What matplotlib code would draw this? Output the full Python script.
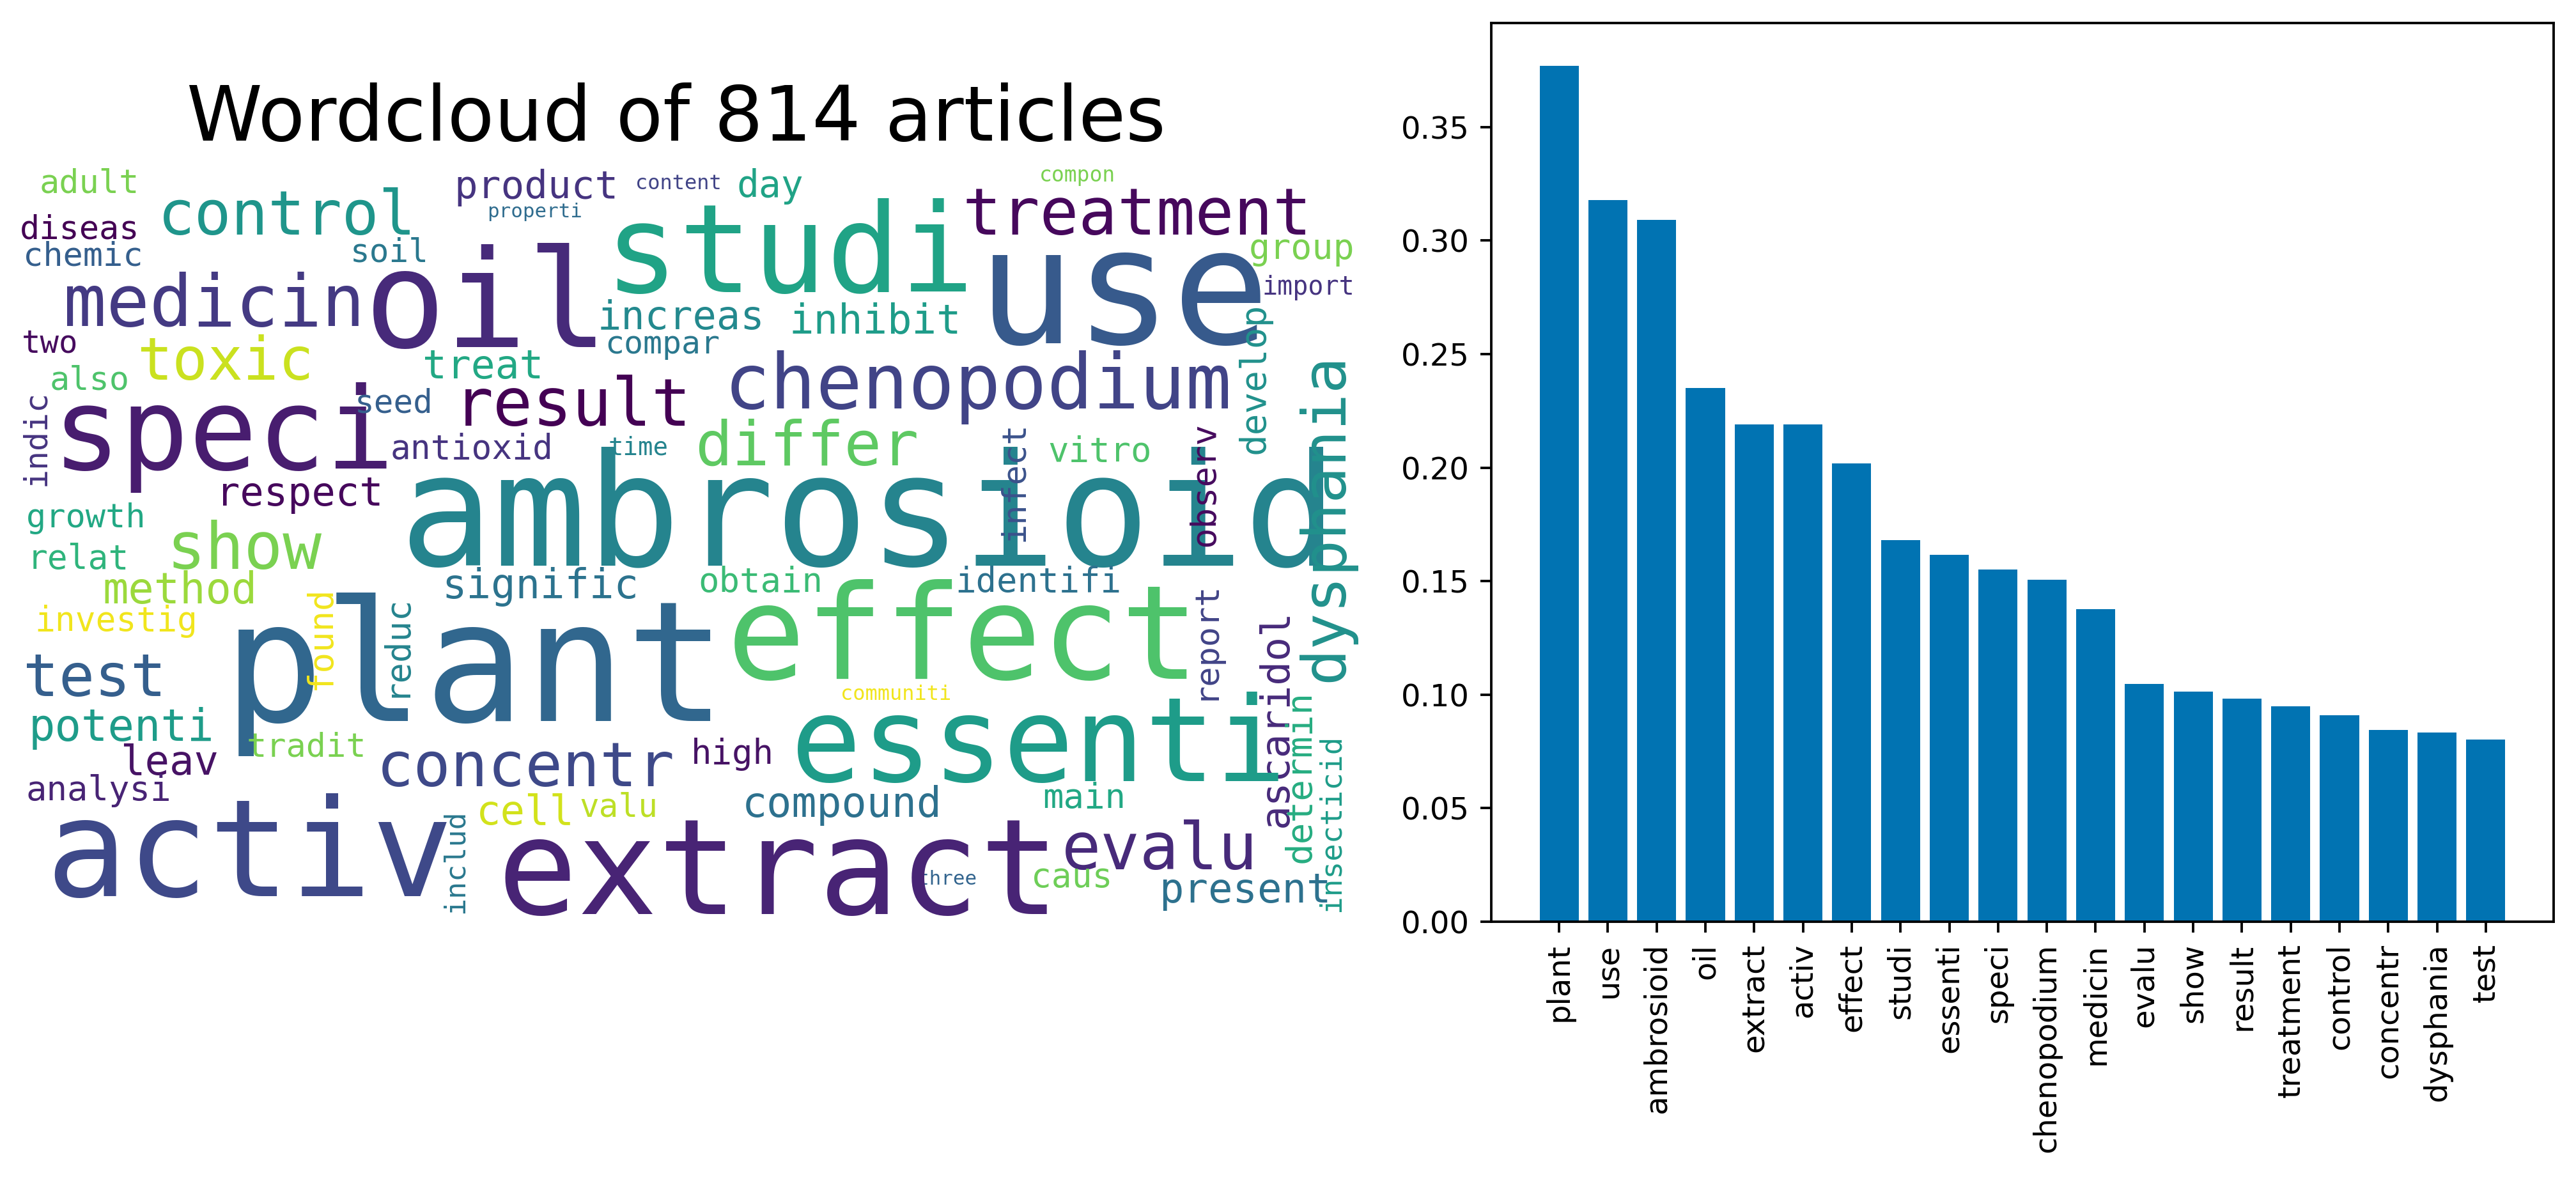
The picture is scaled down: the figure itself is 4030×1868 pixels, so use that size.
import matplotlib
matplotlib.use("Agg")
import matplotlib.pyplot as plt

DPI = 346
W, H = 4030, 1868

# === bar chart data: top 20 word weights ===
top_words = ["plant", "use", "ambrosioid", "oil", "extract", "activ", "effect",
             "studi", "essenti", "speci", "chenopodium", "medicin", "evalu",
             "show", "result", "treatment", "control", "concentr", "dysphania", "test"]
top_scores = [0.377, 0.318, 0.309, 0.235, 0.219, 0.219, 0.202,
              0.168, 0.1615, 0.155, 0.1507, 0.1378, 0.1048,
              0.1014, 0.0983, 0.0950, 0.0908, 0.0845, 0.0834, 0.0801]

# === wordcloud words and their colour (position on viridis) ===
wc_words = ["adult", "diseas", "chemic", "control", "soil", "medicin", "oil", "two",
            "toxic", "also", "indic", "speci", "seed", "respect", "growth", "product",
            "content", "day", "properti", "studi", "increas", "inhibit", "compar", "treat",
            "result", "antioxid", "time", "chenopodium", "differ", "ambrosioid", "use",
            "treatment", "compon", "group", "import", "develop", "dysphania", "vitro",
            "infect", "observ", "report", "identifi", "effect", "ascaridol", "determin",
            "insecticid", "main", "evalu", "caus", "three", "present", "extract",
            "communiti", "signific", "obtain", "plant", "concentr", "high", "essenti",
            "compound", "cell", "valu", "includ", "relat", "show", "method", "investig",
            "found", "reduc", "test", "potenti", "tradit", "leav", "analysi", "activ"]
wc_shade = [0.80, 0.0, 0.30, 0.52, 0.40, 0.17, 0.12, 0.03,
            0.92, 0.72, 0.15, 0.08, 0.30, 0.02, 0.60, 0.15,
            0.20, 0.58, 0.35, 0.58, 0.47, 0.55, 0.40, 0.60,
            0.0, 0.15, 0.45, 0.20, 0.75, 0.45, 0.28,
            0.02, 0.80, 0.80, 0.15, 0.50, 0.50, 0.72,
            0.25, 0.03, 0.20, 0.37, 0.72, 0.12, 0.62,
            0.55, 0.60, 0.12, 0.78, 0.32, 0.37, 0.10,
            0.98, 0.38, 0.68, 0.33, 0.22, 0.05, 0.55,
            0.37, 0.93, 0.90, 0.40, 0.65, 0.80, 0.85, 0.98,
            0.98, 0.45, 0.30, 0.55, 0.80, 0.05, 0.10, 0.22]

# layout of the cloud in figure pixels (x = left / baseline, y = baseline / start)
wc_x = [62, 31, 36, 247, 548, 99, 570, 34,
        214, 78, 70, 82, 555, 338, 41, 710,
        994, 1152, 762, 946, 935, 1235, 946, 661,
        710, 611, 951, 1133, 1087, 624, 1529,
        1505, 1626, 1954, 1975, 1978, 2100, 1639,
        1601, 1899, 1899, 1494, 1137, 2014, 2049,
        2095, 1631, 1661, 1613, 1435, 1813, 777,
        1315, 691, 1092, 349, 589, 1081, 1237,
        1161, 745, 907, 725, 43, 260, 160, 54,
        517, 633, 36, 45, 386, 188, 41, 71]
wc_y = [302, 373, 416, 367, 409, 510, 543, 551,
        594, 610, 760, 734, 646, 791, 825, 310,
        296, 308, 340, 457, 515, 521, 553, 592,
        666, 718, 712, 639, 728, 884, 537,
        367, 284, 405, 461, 710, 1067, 722,
        847, 855, 1095, 926, 1062, 1294, 1350,
        1426, 1264, 1360, 1388, 1384, 1412, 1430,
        1095, 936, 926, 1128, 1230, 1195, 1222,
        1278, 1290, 1278, 1429, 890, 890, 944, 987,
        1079, 1091, 1089, 1159, 1183, 1212, 1252, 1402]
wc_px = [52, 52, 52, 96, 51, 112, 212, 49,
         92, 52, 50, 178, 51, 62, 52, 61,
         32, 58, 31, 192, 62, 64, 50, 63,
         103, 53, 39, 120, 97, 244, 254,
         101, 33, 55, 40, 56, 95, 54,
         52, 54, 52, 54, 205, 63, 56,
         46, 54, 102, 53, 31, 64, 209,
         32, 64, 54, 262, 97, 54, 184,
         65, 64, 51, 45, 53, 101, 67, 53,
         54, 54, 93, 69, 52, 64, 54, 212]
wc_vert = [0, 0, 0, 0, 0, 0, 0, 0,
           0, 0, 1, 0, 0, 0, 0, 0,
           0, 0, 0, 0, 0, 0, 0, 0,
           0, 0, 0, 0, 0, 0, 0,
           0, 0, 0, 0, 1, 1, 0,
           1, 1, 1, 0, 0, 1, 1,
           1, 0, 0, 0, 0, 0, 0,
           0, 0, 0, 0, 0, 0, 0,
           0, 0, 0, 1, 0, 0, 0, 0,
           1, 1, 0, 0, 0, 0, 0, 0]

n_articles = 814

fig = plt.figure(figsize=(W / DPI, H / DPI), dpi=DPI)
fig.patch.set_facecolor("white")

# --- wordcloud panel, drawn in pixel coordinates ---
ax_wc = fig.add_axes([0, 0, 1, 1])
ax_wc.set_xlim(0, W)
ax_wc.set_ylim(H, 0)
ax_wc.axis("off")

cmap = plt.get_cmap("viridis")
for word, t, x, y, px, v in zip(wc_words, wc_shade, wc_x, wc_y, wc_px, wc_vert):
    ax_wc.text(x, y, word, fontsize=px * 72 / DPI, family="DejaVu Sans Mono",
               color=cmap(t), rotation=90 if v else 0, rotation_mode="anchor",
               ha="left", va="baseline")

ax_wc.text(1058, 220, f"Wordcloud of {n_articles} articles", fontsize=120 * 72 / DPI,
           family="DejaVu Sans", color="black", ha="center", va="baseline")

# --- bar chart panel ---
left, right = 2333 / W, 3995 / W
top, bottom = 1 - 36 / H, 1 - 1442 / H
ax = fig.add_axes([left, bottom, right - left, top - bottom])
ax.bar(range(len(top_words)), top_scores, color="#0173b2")
ax.set_xticks(range(len(top_words)))
ax.set_xticklabels(top_words, rotation=90)

fig.savefig("out.png", dpi=DPI, facecolor="white")
